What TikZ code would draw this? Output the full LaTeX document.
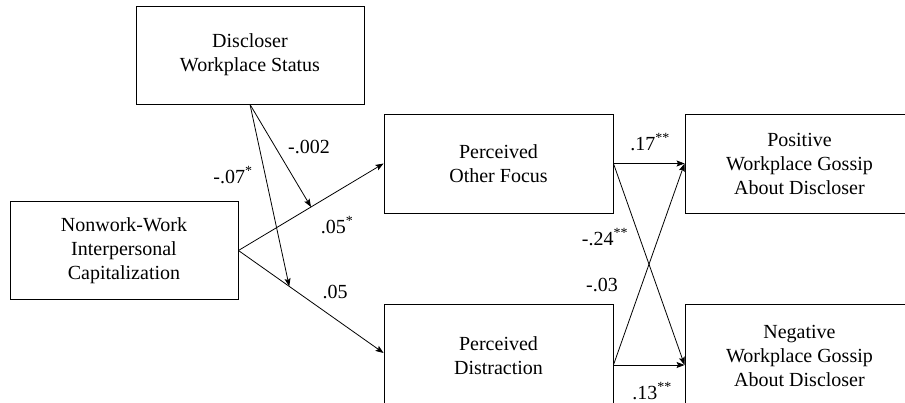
\documentclass[tikz,border=0pt]{standalone}
\usepackage{fontspec}
\setmainfont{Liberation Serif}
\usetikzlibrary{arrows.meta,calc}
\begin{document}
\begin{tikzpicture}[x=1pt,y=1pt,
  box/.style={draw, line width=0.9pt, minimum width=228pt, minimum height=98pt,
    align=center, inner sep=0pt, font=\fontsize{20}{24}\selectfont},
  lbl/.style={inner sep=0pt, font=\fontsize{20}{24}\selectfont},
  arr/.style={line width=0.8pt, -{Stealth[length=8pt,width=6pt,inset=1.5pt]}}]
\useasboundingbox (0,0) rectangle (905,402);
\clip (0,0) rectangle (905,402);
\node[box] (dws) at (250,347) {Discloser\\Workplace Status};
\node[box] (ncap) at (124,151.5) {Nonwork-Work\\Interpersonal\\Capitalization};
\node[box, minimum width=229pt, minimum height=99pt] (pof) at (498.5,238.5) {Perceived\\Other Focus};
\node[box, minimum width=229pt, minimum height=99pt] (pos) at (799.5,238.5) {Positive\\Workplace Gossip\\About Discloser};
\node[box, minimum width=229pt, minimum height=104pt] (pdis) at (498.5,46) {Perceived\\Distraction};
\node[box, minimum width=229pt, minimum height=104pt] (neg) at (799.5,46) {Negative\\Workplace Gossip\\About Discloser};
% connection points
\coordinate (din) at ($(pdis.west)+(0,3)$);
\coordinate (dout) at ($(pdis.east)+(0,-9)$);
\coordinate (nin) at ($(neg.west)+(0,-9)$);
\coordinate (m1) at ($(ncap.east)!0.5!(pof.west)$);
\coordinate (m2) at ($(ncap.east)!0.35!(din)$);
% arrows
\draw[arr] (ncap.east) -- (pof.west);
\draw[arr] (ncap.east) -- (din);
\draw[arr] (dws.south) -- (m1);
\draw[arr] (dws.south) -- (m2);
\draw[arr] (pof.east) -- (pos.west);
\draw[arr] (pof.east) -- (nin);
\draw[arr] (dout) -- (pos.west);
\draw[arr] (dout) -- (nin);
% labels
\node[lbl] (l1) at (233,227) {-.07\textsuperscript{*}};
\node[lbl] (l2) at (309,255) {-.002};
\node[lbl] (l3) at (337,177) {.05\textsuperscript{*}};
\node[lbl] (l4) at (335,110) {.05};
\node[lbl] (l5) at (650,260) {.17\textsuperscript{**}};
\node[lbl] (l6) at (605,165) {-.24\textsuperscript{**}};
\node[lbl] (l7) at (602,117) {-.03};
\node[lbl] (l8) at (652,11) {.13\textsuperscript{**}};
\end{tikzpicture}
\end{document}
